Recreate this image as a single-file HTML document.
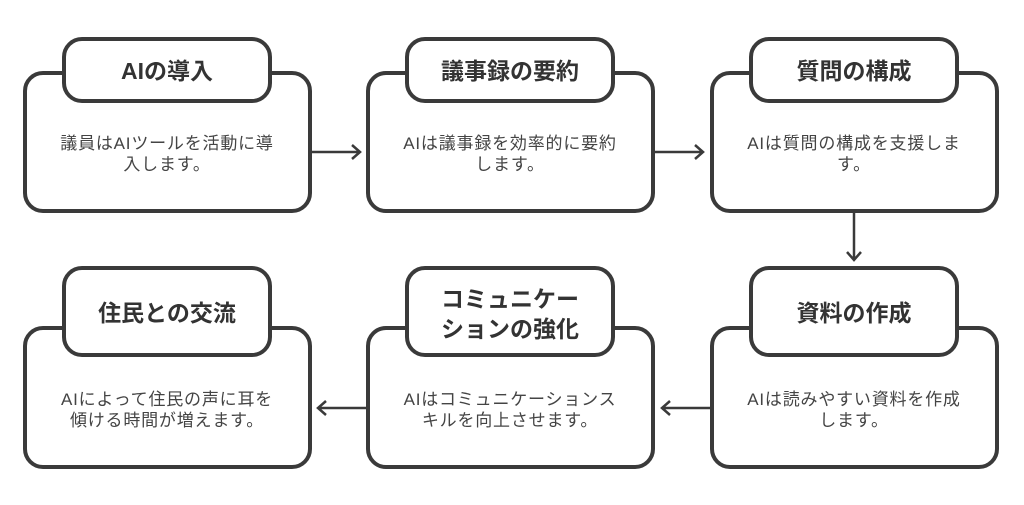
<!DOCTYPE html>
<html><head><meta charset="utf-8"><style>
body{margin:0;background:#fff;}
svg{display:block}
text{font-family:"Liberation Sans","Noto Sans CJK JP",sans-serif;fill:#444;text-anchor:middle}
.t{font-weight:bold;font-size:23px;fill:#333}
.b{font-size:17px;letter-spacing:0.8px}
rect{fill:#fff;stroke:#3a3a3a;stroke-width:4}
path{fill:none;stroke:#3a3a3a;stroke-width:2.5}
</style></head><body>
<svg width="1024" height="505" viewBox="0 0 1024 505">
<!-- top row -->
<rect x="25" y="73" width="285" height="138" rx="18"/>
<rect x="64" y="39" width="206" height="62" rx="18"/>
<text class="t" x="167" y="79">AIの導入</text>
<text class="b" x="167" y="149">議員はAIツールを活動に導</text>
<text class="b" x="167" y="170">入します。</text>

<rect x="368" y="73" width="285" height="138" rx="18"/>
<rect x="407" y="39" width="206" height="62" rx="18"/>
<text class="t" x="510" y="79">議事録の要約</text>
<text class="b" x="510" y="149">AIは議事録を効率的に要約</text>
<text class="b" x="510" y="170">します。</text>

<rect x="712" y="73" width="285" height="138" rx="18"/>
<rect x="751" y="39" width="206" height="62" rx="18"/>
<text class="t" x="854" y="79">質問の構成</text>
<text class="b" x="854" y="149">AIは質問の構成を支援しま</text>
<text class="b" x="854" y="170">す。</text>

<!-- bottom row -->
<rect x="25" y="328" width="285" height="139" rx="18"/>
<rect x="64" y="268" width="206" height="87" rx="18"/>
<text class="t" x="167" y="321">住民との交流</text>
<text class="b" x="167" y="405">AIによって住民の声に耳を</text>
<text class="b" x="167" y="426">傾ける時間が増えます。</text>

<rect x="368" y="328" width="285" height="139" rx="18"/>
<rect x="407" y="268" width="206" height="87" rx="18"/>
<text class="t" x="510" y="307">コミュニケー</text>
<text class="t" x="510" y="337">ションの強化</text>
<text class="b" x="510" y="405">AIはコミュニケーションス</text>
<text class="b" x="510" y="426">キルを向上させます。</text>

<rect x="712" y="328" width="285" height="139" rx="18"/>
<rect x="751" y="268" width="206" height="87" rx="18"/>
<text class="t" x="854" y="321">資料の作成</text>
<text class="b" x="854" y="405">AIは読みやすい資料を作成</text>
<text class="b" x="854" y="426">します。</text>

<!-- arrows -->
<path d="M312 152 H360 M352 145 L360 152 L352 159"/>
<path d="M655 152 H703 M695 145 L703 152 L695 159"/>
<path d="M854 213 V260 M847 252 L854 260 L861 252"/>
<path d="M710 408 H662 M670 401 L662 408 L670 415"/>
<path d="M366 408 H318 M326 401 L318 408 L326 415"/>
</svg>
</body></html>
